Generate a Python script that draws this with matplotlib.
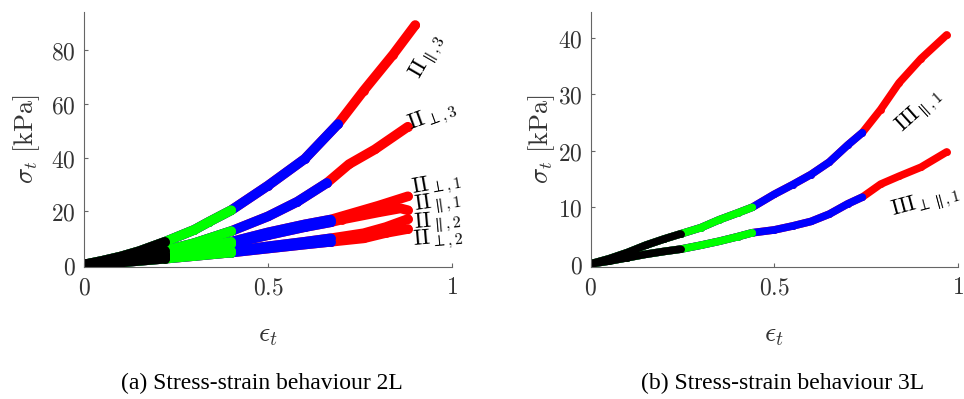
import matplotlib
matplotlib.use("Agg")
import matplotlib.pyplot as plt

plt.rcParams["mathtext.fontset"] = "cm"

# --- 2L panel: strain / stress (kPa) ---
x_par3 = [0, 0.05, 0.1, 0.15, 0.22, 0.3, 0.34, 0.4, 0.5, 0.6, 0.69, 0.76, 0.84, 0.9]
y_par3 = [0, 1.4, 3.0, 5.0, 8.5, 13.0, 16.0, 20.3, 29.5, 39.5, 52.5, 65.0, 78.5, 89.5]
x_perp3 = [0, 0.05, 0.1, 0.15, 0.22, 0.3, 0.4, 0.5, 0.58, 0.66, 0.72, 0.79, 0.88]
y_perp3 = [0, 1.0, 2.0, 3.2, 5.2, 8.0, 12.5, 18.0, 23.5, 30.5, 37.5, 43.0, 51.5]
x_perp1 = [0, 0.1, 0.22, 0.3, 0.4, 0.5, 0.6, 0.67, 0.7, 0.8, 0.88]
y_perp1 = [0, 1.5, 3.8, 6.0, 8.5, 12.0, 15.0, 16.8, 18.0, 22.0, 25.5]
x_par1 = [0, 0.1, 0.22, 0.3, 0.4, 0.5, 0.6, 0.67, 0.7, 0.8, 0.86, 0.88]
y_par1 = [0, 1.3, 3.4, 5.3, 7.8, 11.0, 14.0, 15.8, 16.8, 19.5, 21.0, 20.3]
x_par2 = [0, 0.1, 0.22, 0.3, 0.4, 0.5, 0.6, 0.67, 0.76, 0.82, 0.88]
y_par2 = [0, 1.0, 2.6, 3.6, 5.0, 6.8, 8.5, 9.8, 11.7, 14.0, 17.0]
x_perp2 = [0, 0.1, 0.22, 0.3, 0.4, 0.5, 0.6, 0.67, 0.76, 0.82, 0.88]
y_perp2 = [0, 0.8, 2.2, 3.2, 4.5, 6.0, 7.5, 8.5, 9.8, 11.8, 13.3]

# --- 3L panel ---
x_iii_par = [0, 0.05, 0.1, 0.15, 0.2, 0.245, 0.3, 0.35, 0.4, 0.44, 0.5, 0.55, 0.6,
             0.65, 0.7, 0.74, 0.79, 0.84, 0.9, 0.97]
y_iii_par = [0, 0.9, 2.0, 3.3, 4.4, 5.3, 6.4, 7.8, 9.0, 10.0, 12.3, 14.0, 15.8,
             18.0, 21.0, 23.2, 27.3, 32.0, 36.3, 40.5]
x_iii_perp = [0, 0.05, 0.1, 0.15, 0.2, 0.245, 0.3, 0.35, 0.4, 0.44, 0.5, 0.55, 0.6,
              0.65, 0.7, 0.74, 0.79, 0.84, 0.9, 0.97]
y_iii_perp = [0, 0.5, 1.1, 1.7, 2.2, 2.6, 3.3, 4.0, 4.8, 5.5, 6.0, 6.7, 7.5,
              8.8, 10.6, 11.8, 14.1, 15.5, 17.1, 19.8]

# load stages: colour and last strain of that stage per panel
stage_colors = ["#ff0000", "#0000ff", "#00ff00", "#000000"]
stage_ends_2l = [1.0, 0.69, 0.40, 0.22]
stage_ends_3l = [1.0, 0.74, 0.44, 0.245]

curves_2l = [
    (x_par3, y_par3, r"$\mathrm{II}_{\parallel,3}$", 0.935, 77.6, 60),
    (x_perp3, y_perp3, r"$\mathrm{II}_{\perp,3}$", 0.948, 55.1, 20),
    (x_perp1, y_perp1, r"$\mathrm{II}_{\perp,1}$", 0.958, 29.7, 10),
    (x_par1, y_par1, r"$\mathrm{II}_{\parallel,1}$", 0.960, 23.0, 8),
    (x_par2, y_par2, r"$\mathrm{II}_{\parallel,2}$", 0.962, 15.9, 5),
    (x_perp2, y_perp2, r"$\mathrm{II}_{\perp,2}$", 0.962, 9.5, 5),
]
curves_3l = [
    (x_iii_par, y_iii_par, r"$\mathrm{III}_{\parallel,1}$", 0.895, 26.9, 42),
    (x_iii_perp, y_iii_perp, r"$\mathrm{III}_{\perp\parallel,1}$", 0.912, 10.9, 15),
]

AX_GRAY = "#666666"
TXT_GRAY = "#333333"

fig = plt.figure(figsize=(9.64, 3.99), dpi=100)
ax_l = fig.add_axes([0.0871, 0.3316, 0.3818, 0.6391])
ax_r = fig.add_axes([0.6128, 0.3316, 0.3807, 0.6391])


def draw_panel(ax, curves, ends, lw, fs):
    for color, end in zip(stage_colors, ends):
        for xs, ys, *_ in curves:
            px = [x for x in xs if x <= end + 1e-9]
            py = ys[: len(px)]
            ax.plot(px, py, color=color, lw=lw, solid_capstyle="round",
                    solid_joinstyle="round", marker="o", ms=lw * 0.9, mec="none")
    for _, _, lab, tx, ty, rot in curves:
        ax.text(tx, ty, lab, fontsize=fs, rotation=rot, ha="center", va="center",
                rotation_mode="anchor", clip_on=False, color="black")


draw_panel(ax_l, curves_2l, stage_ends_2l, 7, 16.5)
draw_panel(ax_r, curves_3l, stage_ends_3l, 5.5, 16)

ax_l.set_xlim(0, 1)
ax_l.set_ylim(-0.8, 94.5)
ax_l.set_yticks([0, 20, 40, 60, 80], labels=["$0$", "$20$", "$40$", "$60$", "$80$"])
ax_r.set_xlim(0, 1)
ax_r.set_ylim(-0.5, 44.6)
ax_r.set_yticks([0, 10, 20, 30, 40], labels=["$0$", "$10$", "$20$", "$30$", "$40$"])

for ax, ylx in ((ax_l, -0.115), (ax_r, -0.093)):
    ax.set_xticks([0, 0.5, 1], labels=["$0$", "$0.5$", "$1$"])
    for s in ("top", "right"):
        ax.spines[s].set_visible(False)
    for s in ("left", "bottom"):
        ax.spines[s].set_color(AX_GRAY)
        ax.spines[s].set_linewidth(0.8)
    ax.tick_params(direction="in", length=3, width=0.8, color=AX_GRAY,
                   labelcolor=TXT_GRAY, labelsize=17, pad=6)
    ax.set_xlabel(r"$\epsilon_t$", fontsize=20, color=TXT_GRAY)
    ax.set_ylabel(r"$\sigma_t\ [\mathrm{kPa}]$", fontsize=19, color=TXT_GRAY)
    ax.xaxis.set_label_coords(0.5, -0.21)
    ax.yaxis.set_label_coords(ylx, 0.5)

fig.text(262 / 964, 1 - 383 / 399, "(a) Stress-strain behaviour 2L",
         family="Liberation Serif", fontsize=17, ha="center", va="center")
fig.text(783 / 964, 1 - 383 / 399, "(b) Stress-strain behaviour 3L",
         family="Liberation Serif", fontsize=17, ha="center", va="center")

fig.savefig("out.png", dpi=100)
